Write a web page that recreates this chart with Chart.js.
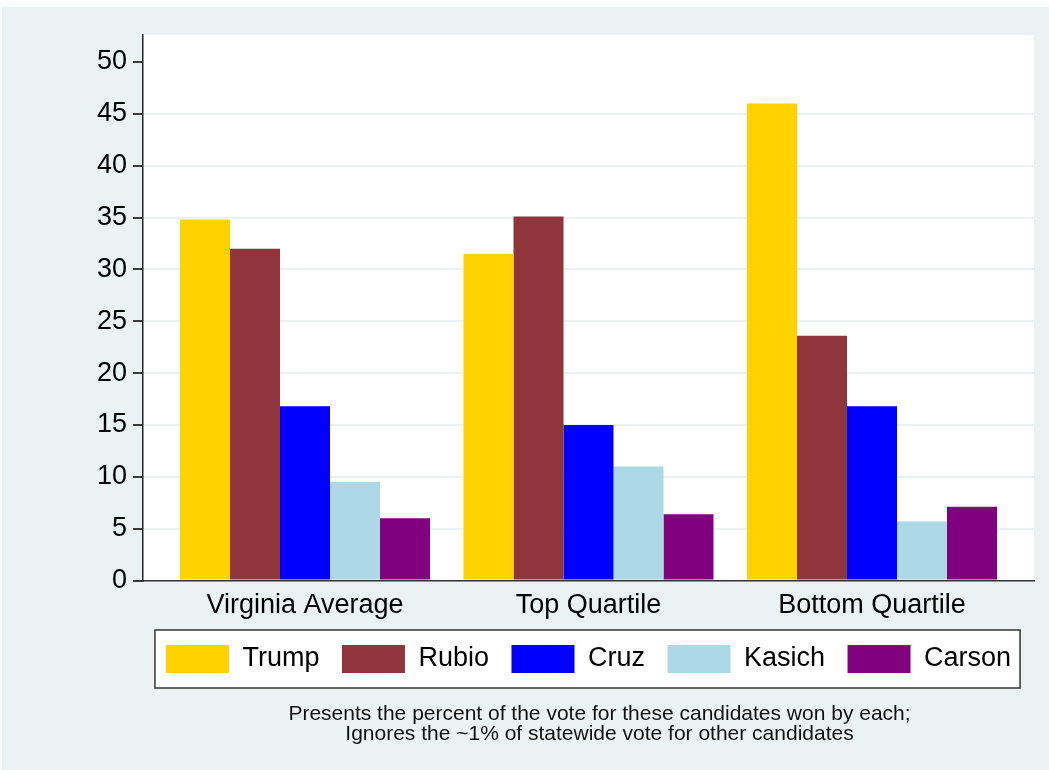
<!DOCTYPE html>
<html>
<head>
<meta charset="utf-8">
<script src="https://cdn.jsdelivr.net/npm/chart.js@4"></script>
<style>
  body { margin: 0; background: #fff; }
  #wrap { width: 1049px; height: 770px; }
</style>
</head>
<body>
<div id="wrap"><canvas id="myChart" width="1049" height="770"></canvas></div>
<script>
groups = ["Virginia Average", "Top Quartile", "Bottom Quartile"];
candidates = ["Trump", "Rubio", "Cruz", "Kasich", "Carson"];
trump = [34.8, 31.5, 46.0];
rubio = [32.0, 35.1, 23.6];
cruz = [16.8, 15.0, 16.8];
kasich = [9.5, 11.0, 5.7];
carson = [6.0, 6.4, 7.1];
yMax = 52.6;
yStep = 5;
notes = [
  "Presents the percent of the vote for these candidates won by each;",
  "Ignores the ~1% of statewide vote for other candidates"
];

var series = [trump, rubio, cruz, kasich, carson];
var barColors = ["#FFD200", "#90353B", "#0000FF", "#ADD8E6", "#800080"];
var font = "'Liberation Sans', Arial, sans-serif";

// background panel, white plot region, legend box, footnote
var frame = {
  id: "frame",
  beforeDraw: function (chart) {
    var ctx = chart.ctx, a = chart.chartArea;
    ctx.save();
    ctx.fillStyle = "#fff";
    ctx.fillRect(0, 0, chart.width, chart.height);
    ctx.fillStyle = "#EAF2F3";
    ctx.fillRect(2, 7, chart.width - 2, chart.height - 7);
    ctx.fillStyle = "#fff";
    ctx.fillRect(a.left, a.top, a.right - a.left, a.bottom - a.top);
    var hb = chart.legend.legendHitBoxes;
    var last = hb[hb.length - 1];
    var l = hb[0].left - 11, r = last.left + last.width + 9, t = hb[0].top - 15;
    ctx.fillRect(l, t, r - l, 58);
    ctx.strokeStyle = "#333";
    ctx.lineWidth = 1.5;
    ctx.strokeRect(l, t, r - l, 58);
    ctx.restore();
  },
  afterDraw: function (chart) {
    var ctx = chart.ctx, a = chart.chartArea;
    ctx.save();
    ctx.fillStyle = "#111";
    ctx.font = "21px " + font;
    ctx.textAlign = "center";
    ctx.textBaseline = "alphabetic";
    var cx = (a.left + a.right) / 2 + 11;
    for (var i = 0; i < notes.length; i++) {
      ctx.fillText(notes[i], cx, 720 + i * 20);
    }
    ctx.restore();
  }
};

var datasets = [];
for (var i = 0; i < candidates.length; i++) {
  datasets.push({
    label: candidates[i],
    backgroundColor: barColors[i],
    borderWidth: 0,
    data: series[i].map(function (v, j) { return { x: j + 1, y: v }; })
  });
}

ch = document.getElementById("myChart");
new Chart(ch, {
  type: "bar",
  data: { datasets: datasets },
  plugins: [frame],
  options: {
    responsive: false,
    animation: false,
    layout: { padding: { top: 35, right: 15, bottom: 87, left: 0 } },
    datasets: { bar: { categoryPercentage: 250 / 283.5, barPercentage: 1 } },
    scales: {
      x: {
        type: "linear",
        offset: false,
        min: 1 - 162 / 283.5,
        max: 3 + 162 / 283.5,
        grid: { display: false, drawTicks: false, offset: false },
        border: { display: true, color: "#333", width: 1.5 },
        afterBuildTicks: function (s) {
          s.ticks = groups.map(function (g, j) { return { value: j + 1 }; });
        },
        afterFit: function (s) { s.height = 42; },
        ticks: {
          autoSkip: false,
          maxRotation: 0,
          padding: 9,
          color: "#000",
          font: { family: font, size: 27 },
          callback: function (v) { return groups[v - 1]; }
        }
      },
      y: {
        min: 0,
        max: yMax,
        afterFit: function (s) { s.width = 143; },
        grid: {
          color: function (c) {
            return c.tick && (c.tick.value === 0 || c.tick.value === 50) ? "rgba(0,0,0,0)" : "#EAF2F3";
          },
          lineWidth: 2,
          tickColor: "#000",
          tickLength: 10,
          tickWidth: 1.5
        },
        border: { display: true, color: "#222", width: 1.5 },
        ticks: {
          stepSize: yStep,
          includeBounds: false,
          padding: 6,
          color: "#000",
          font: { family: font, size: 27 }
        }
      }
    },
    plugins: {
      legend: {
        position: "bottom",
        fullSize: false,
        labels: {
          boxWidth: 63,
          boxHeight: 28,
          padding: 22.5,
          color: "#000",
          font: { family: font, size: 27 }
        }
      },
      title: { display: false },
      tooltip: { enabled: false }
    }
  }
}); //end of chart
</script>
</body>
</html>
